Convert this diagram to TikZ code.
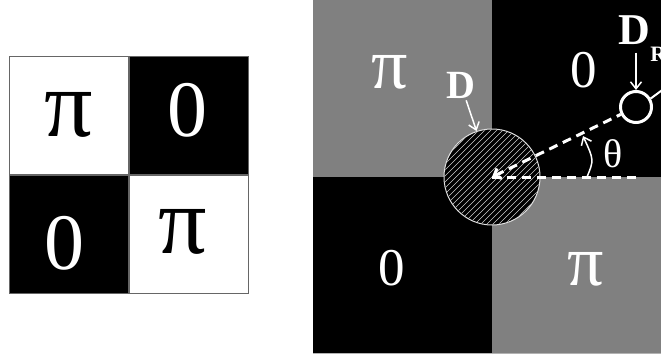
\documentclass[tikz,border=0pt]{standalone}
\usepackage{fontspec}
\setmainfont{Liberation Serif}
\usetikzlibrary{arrows.meta,positioning,calc}

\begin{document}
\begin{tikzpicture}[x=1pt, y=-1pt,
    box/.style={draw=gray!80!black, line width=0.8pt},
    lbl/.style={inner sep=2pt, anchor=center},
    pointer/.style={white, line width=1.5pt, -{Straight Barb[length=7pt,width=11pt]}},
    dashline/.style={white, line width=3pt, dash pattern=on 9pt off 6pt},
  ]
  \useasboundingbox (0,0) rectangle (661,356);
  % left: checkerboard
  \foreach \x/\y/\c in {9/56/white, 129/56/black, 9/175/black, 129/175/white}
    \filldraw[fill=\c, box] (\x,\y) rectangle (\x+119,\y+118);
  \foreach \x/\y/\t/\c/\s[count=\i] in {69/115/π/black/96, 187/110/0/white/80,
      64/243/0/white/80, 183/232/π/black/96}
    \node[lbl, text=\c, font=\fontsize{\s}{\s}\selectfont] (l\i) at (\x,\y) {\t};
  % right: phase plate
  \foreach \x/\y/\w/\h/\c in {313/0/179/177/gray, 492/0/180/177/black,
      313/177/179/176/black, 492/177/180/176/gray}
    \fill[\c] (\x,\y) rectangle ++(\w,\h);
  \draw[gray!60, line width=1pt] (313,353.5) -- (672,353.5);
  \foreach \x/\y/\t/\s[count=\i] in {390/72/π/72, 584/70/0/53, 392/268/0/53, 586/269/π/72}
    \node[lbl, text=white, font=\fontsize{\s}{\s}\selectfont] (r\i) at (\x,\y) {\t};
  % disc
  \node[circle, draw=gray!25, line width=1pt, fill=black, minimum size=96pt,
    inner sep=0pt] (D) at (492,177) {};
  \begin{scope}
    \clip (D.center) circle (47.3);
    \foreach \k in {-114,-108,...,114}
      \draw[white!80!black, line width=0.6pt] (492+\k-60,237) -- (492+\k+60,117);
  \end{scope}
  \node[circle, draw=white, line width=3pt, minimum size=31pt, inner sep=0pt] (DR) at (636,107) {};
  % labels
  \node[lbl, white, font=\fontsize{40}{40}\selectfont\bfseries] (Dlab) at (461,85) {D};
  \node[lbl, white, font=\fontsize{44}{44}\selectfont\bfseries] (DRlab) at (634,30)
    {D\rlap{\smash{\kern0.5pt\raisebox{-17pt}{\fontsize{22}{22}\selectfont R}}}};
  \draw[pointer] (Dlab) -- (D);
  \draw[pointer, shorten <=6pt] (DRlab.south -| DR) -- (DR);
  % rays
  \coordinate (xend) at (640,177);
  \coordinate (out) at (665,88);
  \draw[dashline] (D.center) -- (xend);
  \draw[dashline, {Straight Barb[length=6pt,width=11pt]}-] (D.center) -- (DR);
  \draw[white, line width=2pt] (DR.30) -- (out);
  % angle
  \coordinate (a0) at (587,177);
  \coordinate (a1) at (583,136);
  \draw[pointer] (a0) .. controls (594,160) .. (a1);
  \node[lbl, white, font=\fontsize{40}{40}\selectfont] (theta) at (613,154) {θ};
\end{tikzpicture}
\end{document}
